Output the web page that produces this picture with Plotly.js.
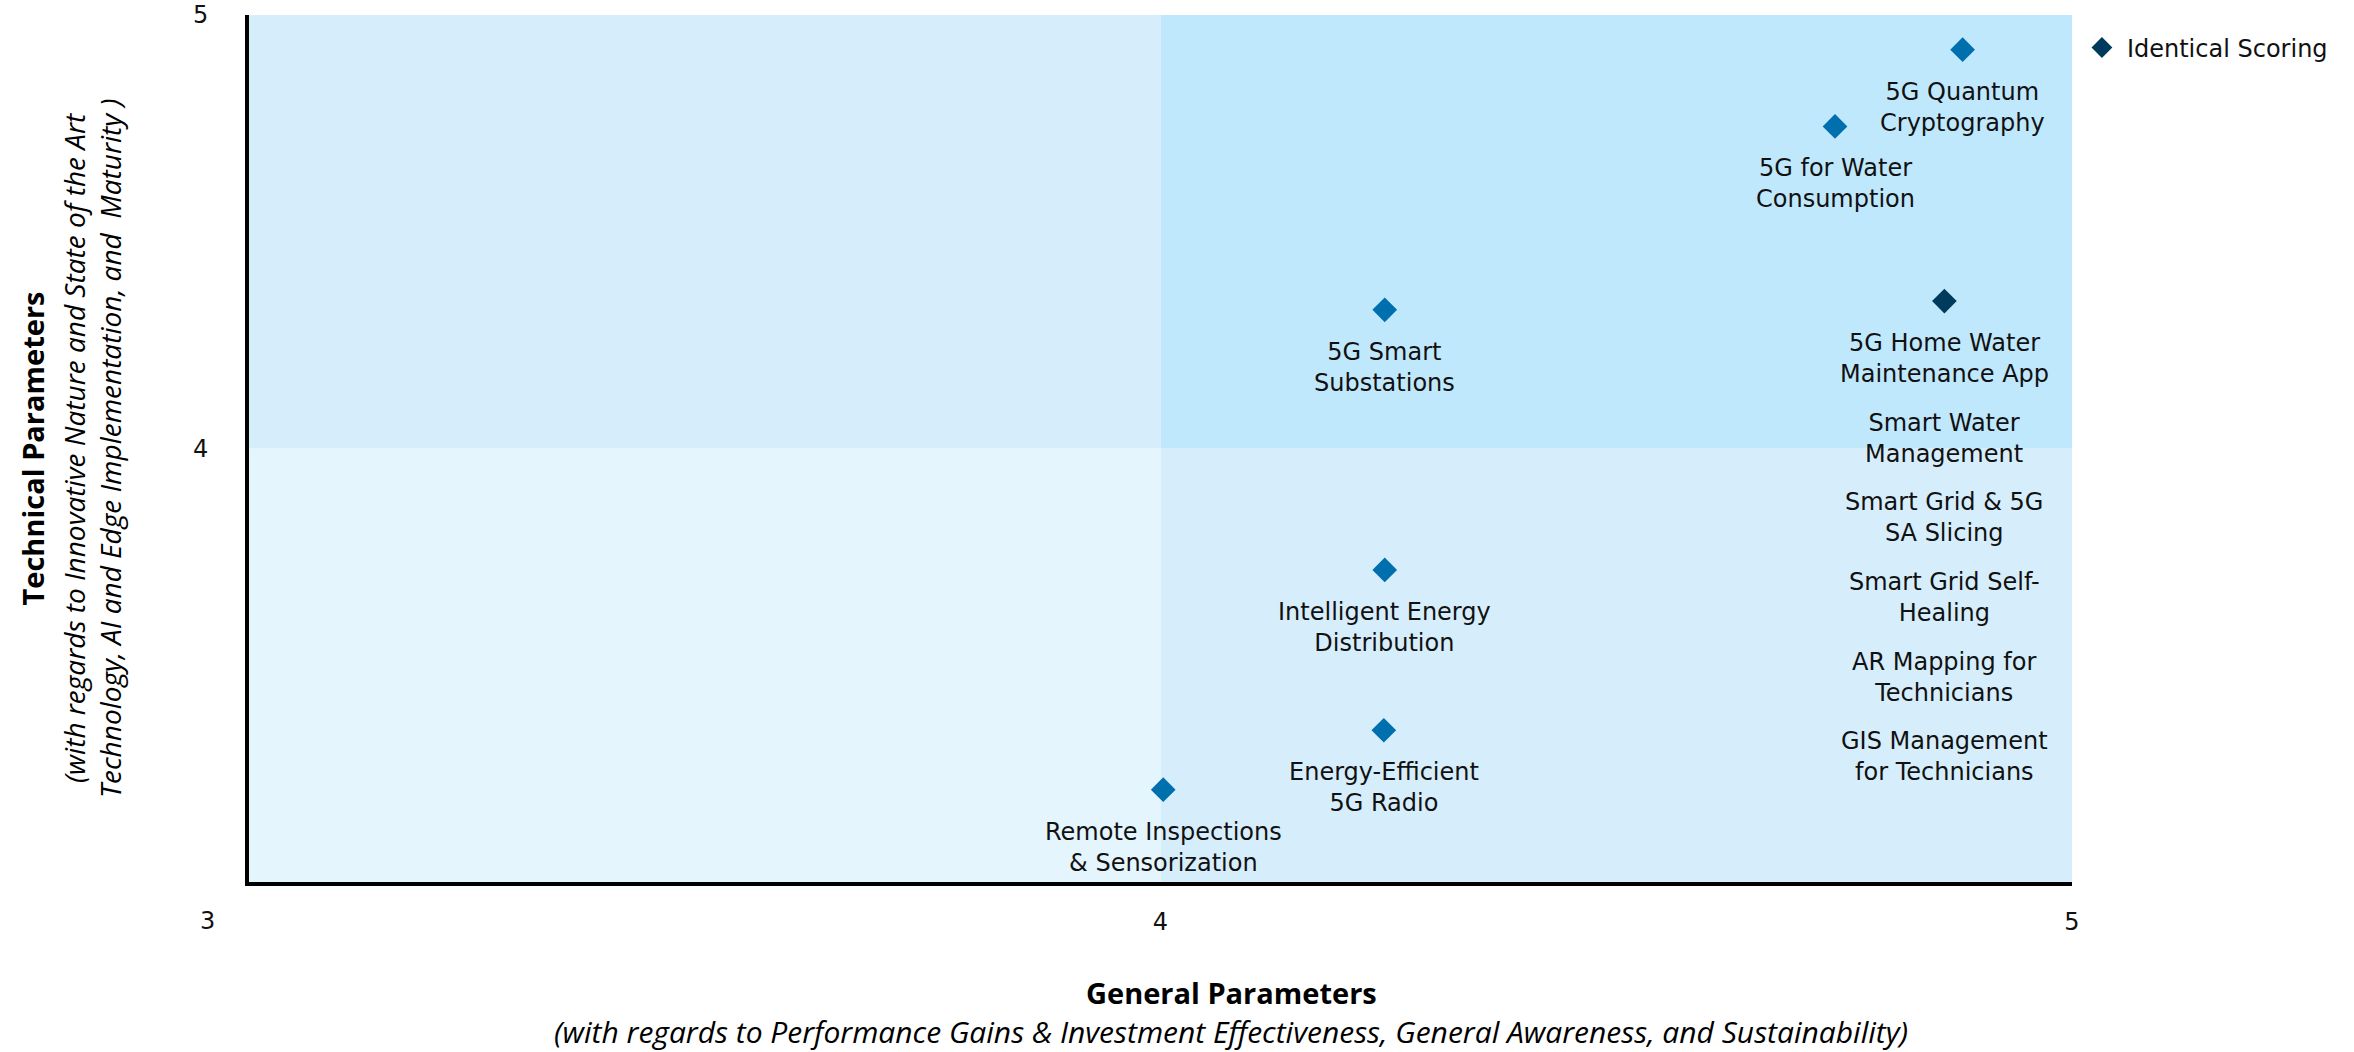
<!DOCTYPE html>
<html>
<head>
<meta charset="utf-8">
<script src="https://cdn.plot.ly/plotly-3.0.1.min.js"></script>
<style>
  html, body { margin: 0; padding: 0; background: #fff; }
</style>
</head>
<body>
<div id="graph" style="width:2354px;height:1052px;"></div>
<script>
// projects with their own score
const projects = [
  '5G Quantum<br>Cryptography',
  '5G for Water<br>Consumption',
  '5G Smart<br>Substations',
  'Intelligent Energy<br>Distribution',
  'Energy-Efficient<br>5G Radio',
  'Remote Inspections<br>& Sensorization'
];
const generalScore = [4.88, 4.74, 4.246, 4.246, 4.245, 4.003];
const technicalScore = [4.92, 4.743, 4.32, 3.72, 3.35, 3.213];

// several projects sharing one score
const identicalGeneral = [4.86];
const identicalTechnical = [4.34];
const identicalLabels = [
  '5G Home Water<br>Maintenance App',
  'Smart Water<br>Management',
  'Smart Grid & 5G<br>SA Slicing',
  'Smart Grid Self-<br>Healing',
  'AR Mapping for<br>Technicians',
  'GIS Management<br>for Technicians'
];

const axisTicks = [4, 5];
const axisRange = [3, 5];
const quadrantSplit = 4;

const FONT = '"DejaVu Sans", Ubuntu, "Open Sans", sans-serif';
const TITLE_FONT = '"Open Sans", "Noto Sans", sans-serif';
const LABEL_GAP = 57.5;   // marker centre -> label centre
const STACK_STEP = 79.6;  // spacing of stacked identical labels

const quadColors = {
  lowLow: '#e4f5fd',
  highLow: '#d6eefc',
  lowHigh: '#d6eefc',
  highHigh: '#c0e8fd'
};

function quad(x0, x1, y0, y1, color) {
  return {
    type: 'rect', xref: 'x', yref: 'y', x0, x1, y0, y1,
    fillcolor: color, line: { width: 0 }, layer: 'below'
  };
}

const shapes = [
  quad(axisRange[0], quadrantSplit, axisRange[0], quadrantSplit, quadColors.lowLow),
  quad(quadrantSplit, axisRange[1], axisRange[0], quadrantSplit, quadColors.highLow),
  quad(axisRange[0], quadrantSplit, quadrantSplit, axisRange[1], quadColors.lowHigh),
  quad(quadrantSplit, axisRange[1], quadrantSplit, axisRange[1], quadColors.highHigh)
];

function label(x, y, text, shift) {
  return {
    x, y, xref: 'x', yref: 'y', text, showarrow: false,
    xanchor: 'center', yanchor: 'middle', yshift: -shift,
    font: { family: FONT, size: 24, color: '#111' }
  };
}

const annotations = projects.map((t, i) => label(generalScore[i], technicalScore[i], t, LABEL_GAP));
identicalLabels.forEach((t, i) => {
  annotations.push(label(identicalGeneral[0], identicalTechnical[0], t, LABEL_GAP + i * STACK_STEP));
});

// the shared "3" at the origin
annotations.push({
  x: axisRange[0], y: axisRange[0], xref: 'x', yref: 'y',
  text: '3', showarrow: false, xshift: -42, yshift: -39,
  font: { family: FONT, size: 24, color: '#111' }
});

// axis titles
annotations.push(
  { xref: 'paper', yref: 'paper', x: 0.5387, y: -0.1269, xanchor: 'center', yanchor: 'middle',
    text: '<b>General Parameters</b>',
    showarrow: false, font: { family: TITLE_FONT, size: 29, color: '#000' } },
  { xref: 'paper', yref: 'paper', x: 0.5387, y: -0.1719, xanchor: 'center', yanchor: 'middle',
    text: '<i>(with regards to Performance Gains & Investment Effectiveness, General Awareness, and Sustainability)</i>',
    showarrow: false, font: { family: TITLE_FONT, size: 30, color: '#000' } },
  { xref: 'paper', yref: 'paper', x: -0.1185, y: 0.5, xanchor: 'center', yanchor: 'middle',
    textangle: -90, text: '<b>Technical Parameters</b>',
    showarrow: false, font: { family: TITLE_FONT, size: 29, color: '#000' } },
  { xref: 'paper', yref: 'paper', x: -0.0864, y: 0.5, xanchor: 'center', yanchor: 'middle',
    textangle: -90,
    text: '<i>(with regards to Innovative Nature and State of the Art<br>Technology, AI and Edge Implementation, and  Maturity )</i>',
    showarrow: false, font: { family: TITLE_FONT, size: 28, color: '#000' } }
);

const traces = [
  {
    x: generalScore, y: technicalScore,
    mode: 'markers', type: 'scatter', showlegend: false,
    marker: { symbol: 'diamond', size: 19, color: '#006fae' }
  },
  {
    x: identicalGeneral, y: identicalTechnical,
    mode: 'markers', type: 'scatter', name: 'Identical Scoring',
    marker: { symbol: 'diamond', size: 19, color: '#003a5c' }
  }
];

const layout = {
  width: 2354, height: 1052,
  margin: { l: 249, r: 282, t: 15, b: 170 },
  paper_bgcolor: '#fff', plot_bgcolor: '#fff',
  font: { family: FONT, size: 24, color: '#111' },
  xaxis: {
    range: axisRange, tickvals: axisTicks, ticks: '', showgrid: false, zeroline: false,
    showline: true, linecolor: '#000', linewidth: 4, ticklabelstandoff: 15,
    tickfont: { family: FONT, size: 24, color: '#111' }
  },
  yaxis: {
    range: axisRange, tickvals: axisTicks, ticks: '', showgrid: false, zeroline: false,
    showline: true, linecolor: '#000', linewidth: 4, ticklabelstandoff: 32,
    tickfont: { family: FONT, size: 24, color: '#111' }
  },
  legend: {
    x: 1.0027, y: 0.988, xanchor: 'left', yanchor: 'top', itemwidth: 40,
    font: { family: FONT, size: 24, color: '#111' }, bgcolor: 'rgba(0,0,0,0)'
  },
  shapes, annotations
};

Plotly.newPlot('graph', traces, layout, { displayModeBar: false, staticPlot: true });
</script>
</body>
</html>
